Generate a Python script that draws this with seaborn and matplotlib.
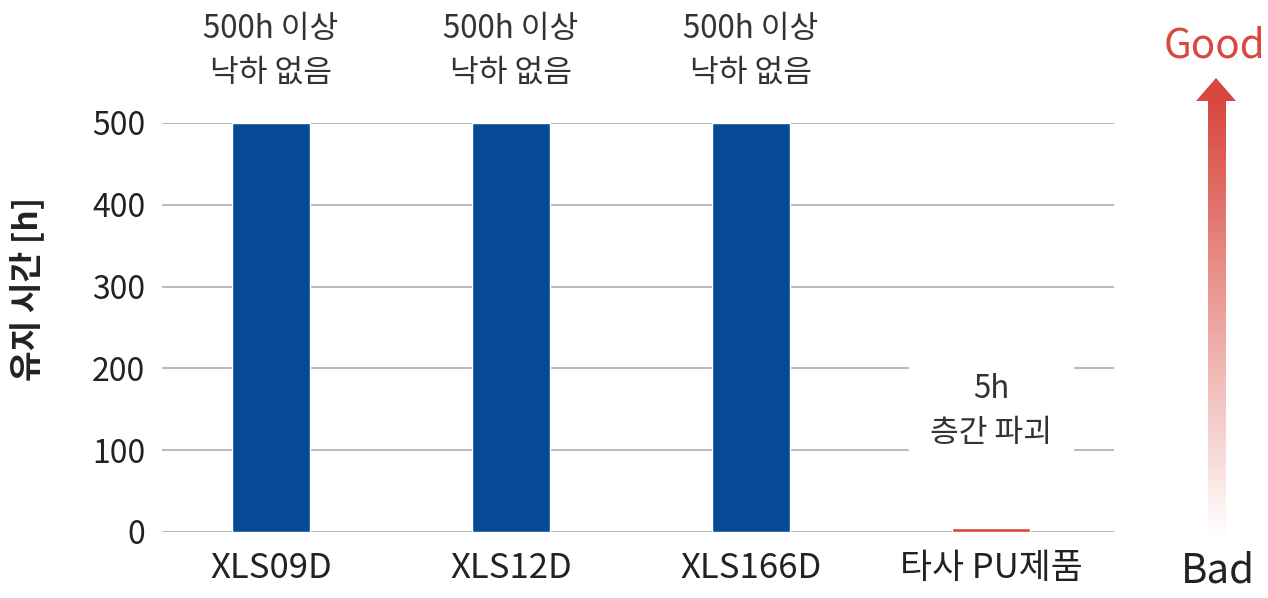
import numpy as np
import seaborn as sns
import matplotlib.pyplot as plt
from matplotlib.patches import Polygon
from matplotlib.colors import LinearSegmentedColormap

products = ["XLS09D", "XLS12D", "XLS166D", "타사 PU제품"]
hours = [500, 500, 500, 5]
bar_colors = ["#064a96", "#064a96", "#064a96", "#d9473e"]
notes = ["500h 이상\n낙하 없음", "500h 이상\n낙하 없음", "500h 이상\n낙하 없음", "5h\n층간 파괴"]
yticks = [0, 100, 200, 300, 400, 500]

sns.set_style("white")
plt.rcParams['font.family'] = ['Noto Sans CJK KR', 'DejaVu Sans']

fig = plt.figure(figsize=(12.68, 5.98), dpi=100)
ax = fig.add_axes([162/1268, 66/598, 952/1268, 409/598])

sns.barplot(x=products, y=hours, hue=products, palette=bar_colors,
            width=0.325, saturation=1, legend=False, ax=ax, zorder=3)

ax.set_ylim(0, 500)
ax.set_xlim(-0.454, 3.513)
ax.set_yticks(yticks)
ax.grid(axis="y", color="#bbbbbb", linewidth=1.5, zorder=0)
ax.set_axisbelow(True)
sns.despine(ax=ax, left=True, bottom=True)
ax.tick_params(axis="both", length=0, colors="#222222")
ax.tick_params(axis="y", pad=12, labelsize=23)
ax.tick_params(axis="x", pad=14, labelsize=25)
ax.set_ylabel("유지 시간 [h]", fontsize=24, color="#222222",
              fontweight="semibold")
ax.yaxis.set_label_coords(-0.124, 0.595)
ax.set_xlabel("")

# annotations
for i, (h, note) in enumerate(zip(hours, notes)):
    if h >= 500:
        ax.text(i, 1.176, note, transform=ax.get_xaxis_transform(),
                ha="center", va="center", fontsize=22.5, color="#333333",
                linespacing=1.45)
    else:
        # white band hiding the grid behind the label
        ax.axvspan(i - 0.342, i + 0.342, ymin=0.14, ymax=0.46,
                   color="white", zorder=1)
        ax.text(i, 0.296, note, transform=ax.get_xaxis_transform(),
                ha="center", va="center", fontsize=22.5, color="#333333",
                linespacing=1.45, zorder=4)

# Good / Bad gradient arrow
arr_ax = fig.add_axes([1196/1268, 58/598, 40/1268, 462/598])
arr_ax.set_xlim(0, 40)
arr_ax.set_ylim(0, 462)
arr_ax.axis("off")
grad = np.linspace(0, 1, 256).reshape(-1, 1)
cmap = LinearSegmentedColormap.from_list("fade", ["#ffffff", "#d9473e"])
arr_ax.imshow(grad, cmap=cmap, origin="lower", aspect="auto",
              extent=[12, 30, 0, 440])
arr_ax.add_patch(Polygon([[0, 439], [40, 439], [20, 462]], closed=True,
                         facecolor="#d9473e", edgecolor="none"))

fig.text(1215/1268, 1 - 46/598, "Good", ha="center", va="center",
         fontsize=29, color="#d9473e", fontweight="medium")
fig.text(1218/1268, 1 - 571/598, "Bad", ha="center", va="center",
         fontsize=29, color="#222222", fontweight="medium")

fig.savefig("out.png", dpi=100)
